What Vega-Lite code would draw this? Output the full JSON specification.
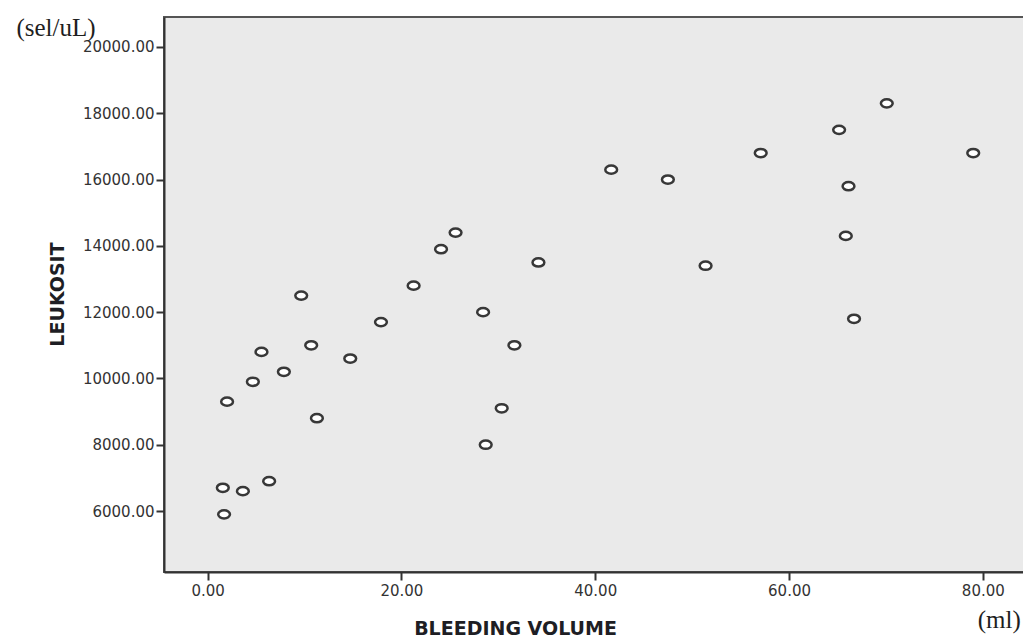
{
  "$schema": "https://vega.github.io/schema/vega-lite/v6.json",
  "autosize": {"type": "none"},
  "padding": {"left": 164, "top": 17, "right": 0, "bottom": 69},
  "width": 860,
  "height": 555,
  "background": "#ffffff",
  "config": {
    "view": {"fill": "#eaeaea", "stroke": "#555555", "strokeWidth": 2},
    "axis": {
      "grid": false,
      "labelFont": "DejaVu Sans",
      "labelFontSize": 15,
      "labelColor": "#333333",
      "domainColor": "#333333",
      "domainWidth": 2,
      "tickColor": "#333333",
      "tickWidth": 2,
      "tickSize": 8,
      "titleFont": "DejaVu Sans",
      "titleFontWeight": "bold",
      "titleColor": "#1e1e24"
    }
  },
  "layer": [
    {
      "data": {
        "values": [
          {"volume": 1.57, "leukosit": 6700},
          {"volume": 3.64, "leukosit": 6600},
          {"volume": 6.35, "leukosit": 6900},
          {"volume": 1.70, "leukosit": 5900},
          {"volume": 2.01, "leukosit": 9300},
          {"volume": 4.67, "leukosit": 9900},
          {"volume": 5.56, "leukosit": 10800},
          {"volume": 7.87, "leukosit": 10200},
          {"volume": 9.66, "leukosit": 12500},
          {"volume": 10.69, "leukosit": 11000},
          {"volume": 11.28, "leukosit": 8800},
          {"volume": 14.72, "leukosit": 10600},
          {"volume": 17.89, "leukosit": 11700},
          {"volume": 21.26, "leukosit": 12800},
          {"volume": 24.09, "leukosit": 13900},
          {"volume": 25.59, "leukosit": 14400},
          {"volume": 34.14, "leukosit": 13500},
          {"volume": 28.43, "leukosit": 12000},
          {"volume": 31.66, "leukosit": 11000},
          {"volume": 30.35, "leukosit": 9100},
          {"volume": 28.70, "leukosit": 8000},
          {"volume": 41.65, "leukosit": 16300},
          {"volume": 47.50, "leukosit": 16000},
          {"volume": 51.39, "leukosit": 13400},
          {"volume": 57.08, "leukosit": 16800},
          {"volume": 65.17, "leukosit": 17500},
          {"volume": 70.09, "leukosit": 18300},
          {"volume": 79.01, "leukosit": 16800},
          {"volume": 66.14, "leukosit": 15800},
          {"volume": 65.86, "leukosit": 14300},
          {"volume": 66.71, "leukosit": 11800}
        ]
      },
      "mark": {
        "type": "point",
        "shape": "M -1,0 C -1,-0.39 -0.55,-0.7 0,-0.7 C 0.55,-0.7 1,-0.39 1,0 C 1,0.39 0.55,0.7 0,0.7 C -0.55,0.7 -1,0.39 -1,0 Z",
        "size": 139,
        "filled": false,
        "fill": "#ffffff",
        "fillOpacity": 1,
        "stroke": "#383838",
        "strokeWidth": 2.5,
        "opacity": 1
      },
      "encoding": {
        "x": {
          "field": "volume",
          "type": "quantitative",
          "scale": {"domain": [-4.5, 84.25], "nice": false, "zero": false},
          "axis": {
            "title": "BLEEDING VOLUME",
            "values": [0, 20, 40, 60, 80],
            "format": ".2f",
            "labelPadding": 3,
            "titleFontSize": 19,
            "titleX": 351,
            "titleY": 62,
            "titleAlign": "center",
            "titleBaseline": "alphabetic",
            "titleAnchor": null
          }
        },
        "y": {
          "field": "leukosit",
          "type": "quantitative",
          "scale": {"domain": [4160, 20905], "nice": false, "zero": false},
          "axis": {
            "title": "LEUKOSIT",
            "values": [6000, 8000, 10000, 12000, 14000, 16000, 18000, 20000],
            "format": ".2f",
            "labelPadding": 2,
            "titleFontSize": 19,
            "titleAngle": -90,
            "titleX": -107,
            "titleY": 277,
            "titleAlign": "center",
            "titleBaseline": "middle",
            "titleAnchor": null
          }
        }
      }
    },
    {
      "data": {
        "values": [
          {"label": "(sel/uL)", "x": -15.65, "y": 20573},
          {"label": "(ml)", "x": 81.7, "y": 2711}
        ]
      },
      "mark": {
        "type": "text",
        "font": "Liberation Serif",
        "fontSize": 25,
        "color": "#1e1e1e",
        "align": "center",
        "baseline": "middle"
      },
      "encoding": {
        "x": {"field": "x", "type": "quantitative"},
        "y": {"field": "y", "type": "quantitative"},
        "text": {"field": "label"}
      }
    }
  ]
}
